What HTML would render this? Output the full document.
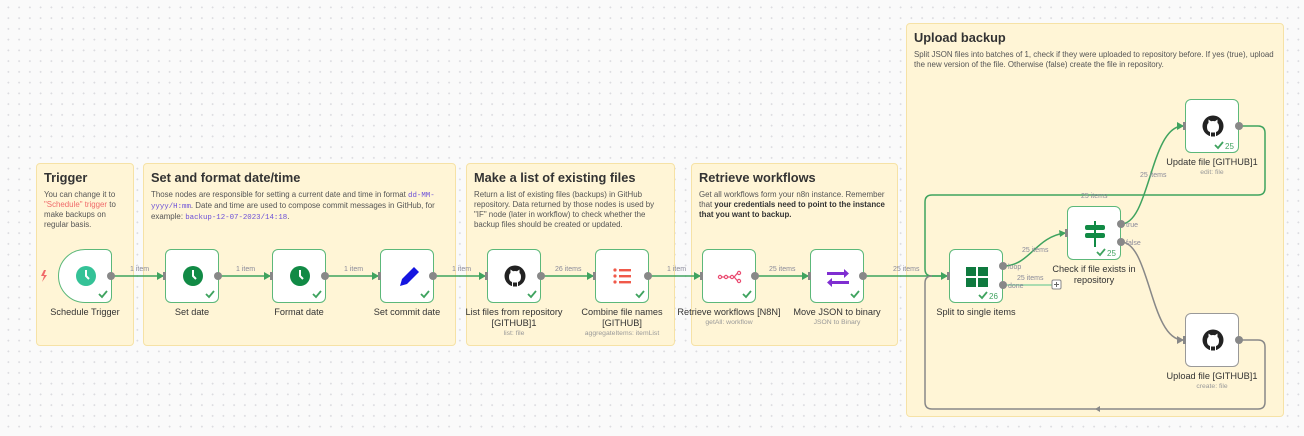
<!DOCTYPE html>
<html><head><meta charset="utf-8"><style>
*{margin:0;padding:0;box-sizing:border-box}
body{width:1304px;height:436px;overflow:hidden;background:#fafafa;background-image:radial-gradient(#dcdce0 0.8px,transparent 1px);background-size:10.75px 10.75px;background-position:3px 2px;font-family:"Liberation Sans",sans-serif;position:relative}
.st{position:absolute;background:#fff5d6;border:1px solid #f6e2a6;border-radius:4px;padding:6px 7px;color:#555}
.st h1{font-size:12.8px;font-weight:bold;color:#333;margin-bottom:5px}
.st p{font-size:7.9px;line-height:10px}
.c{font-family:"Liberation Mono",monospace;color:#6b4fd8;font-size:7.4px}
.n{position:absolute;width:54px;height:54px;background:#fff;border:1.5px solid #5cb87a;border-radius:6px}
.lbl{position:absolute;width:110px;text-align:center;font-size:9.2px;color:#333;line-height:11px}
.sub{position:absolute;width:110px;text-align:center;font-size:6.8px;color:#999}
svg.top{position:absolute;left:0;top:0;z-index:5}
</style></head><body>
<div class="st" style="left:36px;top:163px;width:98px;height:183px"><h1>Trigger</h1><p>You can change it to <span style="color:#f06a6a">"Schedule" trigger</span> to make backups on regular basis.</p></div>
<div class="st" style="left:143px;top:163px;width:313px;height:183px"><h1>Set and format date/time</h1><p>Those nodes are responsible for setting a current date and time in format <span class="c">dd-MM-yyyy/H:mm</span>. Date and time are used to compose commit messages in GitHub, for example: <span class="c">backup-12-07-2023/14:18</span>.</p></div>
<div class="st" style="left:466px;top:163px;width:209px;height:183px"><h1>Make a list of existing files</h1><p>Return a list of existing files (backups) in GitHub repository. Data returned by those nodes is used by "IF" node (later in workflow) to check whether the backup files should be created or updated.</p></div>
<div class="st" style="left:691px;top:163px;width:207px;height:183px"><h1>Retrieve workflows</h1><p>Get all workflows form your n8n instance. Remember that <b style="color:#333">your credentials need to point to the instance that you want to backup.</b></p></div>
<div class="st" style="left:906px;top:23px;width:378px;height:394px"><h1>Upload backup</h1><p>Split JSON files into batches of 1, check if they were uploaded to repository before. If yes (true), upload the new version of the file. Otherwise (false) create the file in repository.</p></div>

<div class="n" style="left:58px;top:249px;border-radius:27px 6px 6px 27px"><svg width="54" height="54"><circle cx="27" cy="26" r="10" fill="#34c297"/><path d="M27 20V26L30 29" stroke="#fff" stroke-width="2" fill="none"/><path d="M40 44l3 3 5-6" stroke="#3fa35f" stroke-width="1.8" fill="none"/></svg></div>
<div class="n" style="left:165px;top:249px"><svg width="54" height="54"><circle cx="27" cy="26" r="10" fill="#118a45"/><path d="M27 20V26L30 29" stroke="#fff" stroke-width="2" fill="none"/><path d="M40 44l3 3 5-6" stroke="#3fa35f" stroke-width="1.8" fill="none"/></svg></div>
<div class="n" style="left:272px;top:249px"><svg width="54" height="54"><circle cx="27" cy="26" r="10" fill="#118a45"/><path d="M27 20V26L30 29" stroke="#fff" stroke-width="2" fill="none"/><path d="M40 44l3 3 5-6" stroke="#3fa35f" stroke-width="1.8" fill="none"/></svg></div>
<div class="n" style="left:380px;top:249px"><svg width="54" height="54"><path d="M19 36L21 29L33 17L38 22L26 34Z" fill="#1515e0"/><path d="M40 44l3 3 5-6" stroke="#3fa35f" stroke-width="1.8" fill="none"/></svg></div>
<div class="n" style="left:487px;top:249px"><svg width="54" height="54"><circle cx="27" cy="26" r="10.5" fill="#222"/><path d="M24 36.5V32Q21 31 21 27Q21 24 22.5 23L22.5 19.5L25 21.2Q27 20.7 29 21.2L31.5 19.5L31.5 23Q33 24 33 27Q33 31 30 32V36.5Z" fill="#fff"/><path d="M25 36.5V32.5H29V36.5" fill="#222"/><path d="M40 44l3 3 5-6" stroke="#3fa35f" stroke-width="1.8" fill="none"/></svg></div>
<div class="n" style="left:595px;top:249px"><svg width="54" height="54"><g fill="#f0594a"><circle cx="19" cy="20" r="1.6"/><circle cx="19" cy="26" r="1.6"/><circle cx="19" cy="32" r="1.6"/><rect x="23" y="19" width="12" height="2.4"/><rect x="23" y="25" width="12" height="2.4"/><rect x="23" y="31" width="12" height="2.4"/></g><path d="M40 44l3 3 5-6" stroke="#3fa35f" stroke-width="1.8" fill="none"/></svg></div>
<div class="n" style="left:702px;top:249px"><svg width="54" height="54"><g stroke="#ea4b71" stroke-width="1.2" fill="none"><circle cx="17" cy="27" r="1.6"/><circle cx="23" cy="27" r="1.6"/><circle cx="29" cy="27" r="1.6"/><circle cx="36" cy="23" r="1.6"/><circle cx="36" cy="31" r="1.6"/><path d="M18.6 27H21.4M24.6 27H27.4M30.6 27C32 27 33 24 34.4 23.5M30.6 27C32 27 33 30 34.4 30.5"/></g><path d="M40 44l3 3 5-6" stroke="#3fa35f" stroke-width="1.8" fill="none"/></svg></div>
<div class="n" style="left:810px;top:249px"><svg width="54" height="54"><g fill="#7f2ed1"><path d="M16 22H33V19L38 23.5L33 28V25H16Z"/><path d="M38 31H21V28L16 32.5L21 37V34H38Z"/></g><path d="M40 44l3 3 5-6" stroke="#3fa35f" stroke-width="1.8" fill="none"/></svg></div>
<div class="n" style="left:949px;top:249px"><svg width="54" height="54"><g fill="#0f7a3f"><rect x="16" y="17" width="10" height="9"/><rect x="28" y="17" width="10" height="9"/><rect x="16" y="28" width="10" height="9"/><rect x="28" y="28" width="10" height="9"/></g><path d="M29 45l3 3 5-6" stroke="#3fa35f" stroke-width="1.8" fill="none"/><text x="39" y="49" font-size="8" fill="#3fa35f" font-family="Liberation Sans">26</text></svg></div>
<div class="n" style="left:1067px;top:206px"><svg width="54" height="54"><g fill="#118a45"><rect x="26" y="14" width="2" height="26"/><rect x="17" y="18" width="20" height="5" rx="2"/><rect x="17" y="26" width="20" height="5" rx="2"/></g><path d="M29 45l3 3 5-6" stroke="#3fa35f" stroke-width="1.8" fill="none"/><text x="39" y="49" font-size="8" fill="#3fa35f" font-family="Liberation Sans">25</text></svg></div>
<div class="n" style="left:1185px;top:99px"><svg width="54" height="54"><circle cx="27" cy="26" r="10.5" fill="#222"/><path d="M24 36.5V32Q21 31 21 27Q21 24 22.5 23L22.5 19.5L25 21.2Q27 20.7 29 21.2L31.5 19.5L31.5 23Q33 24 33 27Q33 31 30 32V36.5Z" fill="#fff"/><path d="M25 36.5V32.5H29V36.5" fill="#222"/><path d="M29 45l3 3 5-6" stroke="#3fa35f" stroke-width="1.8" fill="none"/><text x="39" y="49" font-size="8" fill="#3fa35f" font-family="Liberation Sans">25</text></svg></div>
<div class="n" style="left:1185px;top:313px;border-color:#999"><svg width="54" height="54"><circle cx="27" cy="26" r="10.5" fill="#222"/><path d="M24 36.5V32Q21 31 21 27Q21 24 22.5 23L22.5 19.5L25 21.2Q27 20.7 29 21.2L31.5 19.5L31.5 23Q33 24 33 27Q33 31 30 32V36.5Z" fill="#fff"/><path d="M25 36.5V32.5H29V36.5" fill="#222"/></svg></div>

<svg class="top" width="1304" height="436" font-family="Liberation Sans,sans-serif" font-size="7" fill="#8a8a9a">
<g stroke="#3fa35f" stroke-width="1.5" fill="none">
<path d="M111 276H163"/><path d="M218 276H270"/><path d="M325 276H378"/><path d="M433 276H485"/>
<path d="M541 276H593"/><path d="M648 276H700"/><path d="M755 276H808"/><path d="M863 276H947"/>
<path d="M1003 266C1030 266 1035 237 1065 233"/>
<path d="M1121 224C1150 224 1150 126 1183 126"/>
<path d="M1238 126H1258Q1265 126 1265 133V188Q1265 195 1258 195H932Q925 195 925 202V269Q925 276 932 276H947"/>
<path d="M1003 285H1052" stroke="#8fd3a3"/>
</g>
<g stroke="#888" stroke-width="1.5" fill="none">
<path d="M1121 242C1150 242 1150 340 1183 340"/>
<path d="M1238 340H1258Q1265 340 1265 347V402Q1265 409 1258 409H932Q925 409 925 402V283Q925 276 932 276"/>
</g>
<g fill="#3fa35f"><path d="M157 272L164 276L157 280Z"/><path d="M264 272L271 276L264 280Z"/><path d="M372 272L379 276L372 280Z"/><path d="M479 272L486 276L479 280Z"/><path d="M587 272L594 276L587 280Z"/><path d="M694 272L701 276L694 280Z"/><path d="M802 272L809 276L802 280Z"/><path d="M941 272L948 276L941 280Z"/><path d="M1059 230L1066 233L1060 237Z"/><path d="M1177 122L1184 126L1177 130Z"/></g>
<path d="M1177 336L1184 340L1177 344Z" fill="#888"/><path d="M1100 406L1095 409L1100 412Z" fill="#888"/>
<g fill="#888"><rect x="163" y="272" width="3" height="8"/><rect x="270" y="272" width="3" height="8"/><rect x="378" y="272" width="3" height="8"/><rect x="485" y="272" width="3" height="8"/><rect x="593" y="272" width="3" height="8"/><rect x="700" y="272" width="3" height="8"/><rect x="808" y="272" width="3" height="8"/><rect x="947" y="272" width="3" height="8"/><rect x="1065" y="229" width="3" height="8"/><rect x="1183" y="122" width="3" height="8"/><rect x="1183" y="336" width="3" height="8"/>
<circle cx="111" cy="276" r="4"/><circle cx="218" cy="276" r="4"/><circle cx="325" cy="276" r="4"/><circle cx="433" cy="276" r="4"/><circle cx="541" cy="276" r="4"/><circle cx="648" cy="276" r="4"/><circle cx="755" cy="276" r="4"/><circle cx="863" cy="276" r="4"/><circle cx="1003" cy="266" r="4"/><circle cx="1003" cy="285" r="4"/><circle cx="1121" cy="224" r="4"/><circle cx="1121" cy="242" r="4"/><circle cx="1239" cy="126" r="4"/><circle cx="1239" cy="340" r="4"/></g>
<rect x="1052" y="280" width="9" height="9" rx="1.5" fill="#fff" stroke="#888"/><path d="M1056.5 282V287M1054 284.5H1059" stroke="#666"/>
<text x="130" y="271">1 item</text><text x="236" y="271">1 item</text><text x="344" y="271">1 item</text><text x="452" y="271">1 item</text><text x="555" y="271">26 items</text><text x="667" y="271">1 item</text><text x="769" y="271">25 items</text><text x="893" y="271">25 items</text>
<text x="1022" y="252">25 items</text><text x="1017" y="280">25 items</text><text x="1140" y="177">25 items</text><text x="1081" y="198">25 items</text>
<text x="1008" y="269">loop</text><text x="1008" y="288">done</text><text x="1126" y="227">true</text><text x="1126" y="245">false</text>
<path d="M44 270L41 276H44L42 282L47 275H44L46 270Z" fill="#f06a6a"/>
</svg>

<div class="lbl" style="left:30px;top:307px">Schedule Trigger</div>
<div class="lbl" style="left:137px;top:307px">Set date</div>
<div class="lbl" style="left:244px;top:307px">Format date</div>
<div class="lbl" style="left:352px;top:307px">Set commit date</div>
<div class="lbl" style="left:459px;top:307px">List files from repository [GITHUB]1</div>
<div class="sub" style="left:459px;top:330px">list: file</div>
<div class="lbl" style="left:567px;top:307px;width:110px">Combine file names [GITHUB]</div>
<div class="sub" style="left:567px;top:330px">aggregateItems: itemList</div>
<div class="lbl" style="left:669px;top:307px;width:120px">Retrieve workflows [N8N]</div>
<div class="sub" style="left:674px;top:319px">getAll: workflow</div>
<div class="lbl" style="left:782px;top:307px">Move JSON to binary</div>
<div class="sub" style="left:782px;top:319px">JSON to Binary</div>
<div class="lbl" style="left:921px;top:307px">Split to single items</div>
<div class="lbl" style="left:1044px;top:264px;width:100px">Check if file exists in repository</div>
<div class="lbl" style="left:1152px;top:157px;width:120px">Update file [GITHUB]1</div>
<div class="sub" style="left:1157px;top:169px">edit: file</div>
<div class="lbl" style="left:1152px;top:371px;width:120px">Upload file [GITHUB]1</div>
<div class="sub" style="left:1157px;top:383px">create: file</div>
</body></html>
